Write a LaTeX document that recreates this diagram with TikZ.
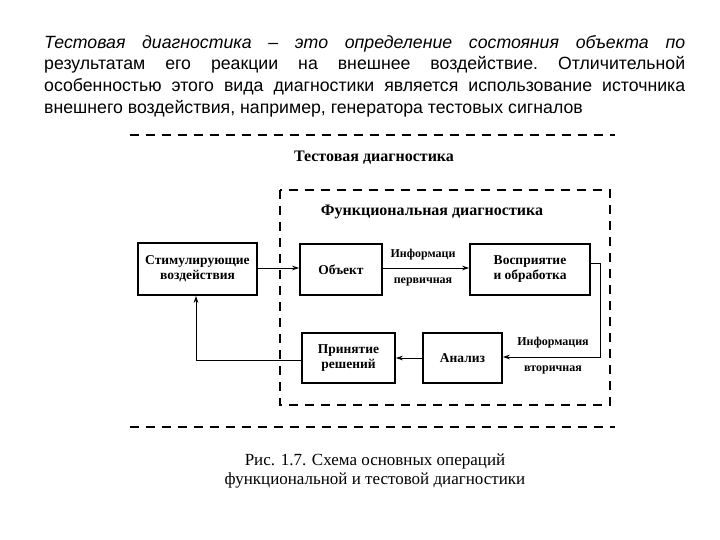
\documentclass[tikz,border=0pt]{standalone}
\usepackage{fontspec}
\setmainfont{Liberation Serif}
\newfontfamily\parafont{Liberation Sans}
\usetikzlibrary{arrows.meta}
\tikzset{
  blk/.style={draw, line width=1.6pt, inner sep=0pt, align=center, font=\bfseries\fontsize{13.5}{15}\selectfont},
  lbl/.style={inner sep=0pt, font=\bfseries\fontsize{12}{13}\selectfont},
  conn/.style={line width=0.9pt},
  arr/.style={conn, -{Stealth[length=7pt,width=4.5pt]}},
  dsh/.style={line width=1.6pt, dash pattern=on 9pt off 7pt},
}
\begin{document}
\begin{tikzpicture}[x=1pt,y=-1pt]
\useasboundingbox (0,0) rectangle (720,540);
% paragraph
\node[anchor=north west, inner sep=0pt, text width=641pt, align=justify,
  font=\parafont\fontsize{17.7}{21.8}\selectfont] (para) at (44,35)
  {\frenchspacing\textit{Тестовая диагностика – это определение состояния объекта по}\linebreak результатам его реакции на внешнее воздействие. Отличительной\linebreak особенностью этого вида диагностики является использование источника\linebreak внешнего воздействия, например, генератора тестовых сигналов};
% outer dashed lines
\coordinate (otl) at (130,135); \coordinate (otr) at (615,135);
\coordinate (obl) at (130,427); \coordinate (obr) at (615,427);
\draw[dsh] (otl) -- (otr);
\draw[dsh] (obl) -- (obr);
\node[font=\bfseries\fontsize{16}{18}\selectfont, inner sep=0pt] (ttl) at (374,158) {Тестовая диагностика};
% inner dashed rect
\coordinate (itl) at (280,190); \coordinate (ibr) at (610,405);
\draw[dsh] (itl) rectangle (ibr);
\node[font=\bfseries\fontsize{16}{18}\selectfont, inner sep=0pt] (ftl) at (432,212) {Функциональная диагностика};
% blocks
\node[blk, minimum width=119pt, minimum height=52pt] (stim) at (197.5,269) {Стимулирующие\\воздействия};
\node[blk, minimum width=82pt, minimum height=51pt] (obj) at (341,269.5) {Объект};
\node[blk, minimum width=120pt, minimum height=51pt] (vos) at (530,269.5) {Восприятие\\и обработка};
\node[blk, minimum width=93pt, minimum height=50pt] (prin) at (348.5,358) {Принятие\\решений};
\node[blk, minimum width=79pt, minimum height=50pt] (anal) at (462.5,358) {Анализ};
% connectors
\draw[arr] (stim.east |- 0,268) -- (obj.west |- 0,268);
\draw[arr] (obj.east |- 0,268) -- (vos.west |- 0,268);
\node[lbl] (i1) at (423,255) {Информаци};
\node[lbl] (p1) at (423,282) {первичная};
\coordinate (c1) at (600,263);
\coordinate (c2) at (600,357);
\draw[arr] (vos.east |- c1) -- (c1) -- (c2) -- (anal.east |- c2);
\node[lbl] (i2) at (553,343) {Информация};
\node[lbl] (v2) at (553,370) {вторичная};
\draw[arr] (anal.west) -- (prin.east);
\coordinate (c3) at (196,360);
\draw[arr] (prin.west |- c3) -- (c3) -- (stim.south -| c3);
% caption
\node[font=\fontsize{17}{19}\selectfont, align=center, inner sep=0pt] (cap) at (375,471) {Рис. 1.7. Схема основных операций\\функциональной и тестовой диагностики};
\end{tikzpicture}
\end{document}
